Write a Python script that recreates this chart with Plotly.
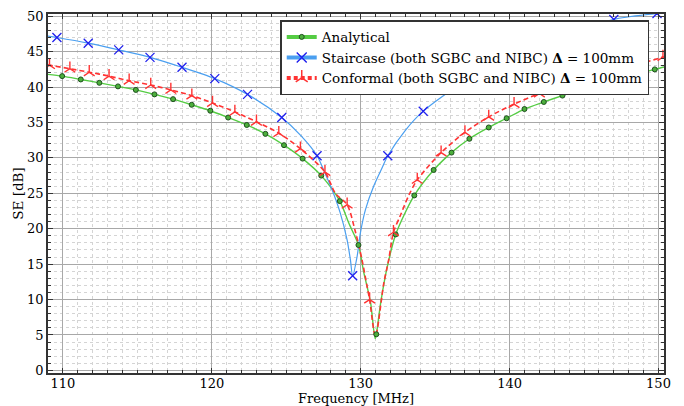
import plotly.graph_objects as go

# ---------------- data ----------------
# Analytical: marker points
ana_mx = [109.95, 111.2, 112.45, 113.7, 114.9, 116.15, 117.4, 118.65, 119.9, 121.1,
          122.35, 123.6, 124.85, 126.1, 127.35, 128.6, 129.85, 131.05, 132.35, 133.6,
          134.9, 136.1, 137.3, 138.6, 139.8, 141.0, 142.3, 143.55, 144.8, 146.0,
          147.25, 148.5, 149.75]
ana_my = [41.55, 41.08, 40.6, 40.1, 39.6, 38.97, 38.3, 37.5, 36.66, 35.7,
          34.65, 33.4, 31.8, 29.9, 27.5, 23.9, 17.7, 5.1, 19.2, 24.7,
          28.3, 30.75, 32.7, 34.3, 35.6, 36.9, 37.9, 38.8, 39.7, 40.5,
          41.2, 41.85, 42.5]
# Analytical: curve points (markers + extra points along the curve)
ana_cx = [109.0, 109.95, 111.2, 112.45, 113.7, 114.9, 116.15, 117.4, 118.65, 119.9,
          121.1, 122.35, 123.6, 124.85, 126.1, 127.35, 128.6, 129.2, 129.85, 130.2,
          130.5, 130.67, 130.97, 131.05, 131.34, 131.74, 132.35, 133.6, 134.9, 136.1,
          137.3, 138.6, 139.8, 141.0, 142.3, 143.55, 144.8, 146.0, 147.25, 148.5,
          149.75, 150.37]
ana_cy = [41.8, 41.55, 41.08, 40.6, 40.1, 39.6, 38.97, 38.3, 37.5, 36.66,
          35.7, 34.65, 33.4, 31.8, 29.9, 27.5, 23.9, 20.8, 17.7, 13.9,
          11.2, 9.5, 4.5, 5.1, 9.5, 14.2, 19.2, 24.7, 28.3, 30.75,
          32.7, 34.3, 35.6, 36.9, 37.9, 38.8, 39.7, 40.5, 41.2, 41.85,
          42.5, 42.85]

# Staircase: marker points
stc_mx = [109.6, 111.7, 113.75, 115.85, 118.0, 120.2, 122.4, 124.7, 127.07, 129.46,
          131.82, 134.2, 136.7, 139.3, 141.9, 144.45, 147.0, 149.9]
stc_my = [47.0, 46.2, 45.25, 44.2, 42.8, 41.2, 38.97, 35.7, 30.3, 13.36,
          30.3, 36.6, 40.4, 43.2, 45.5, 47.5, 49.55, 50.4]
# Staircase: curve points
stc_cx = [109.0, 109.6, 111.7, 113.75, 115.85, 118.0, 120.2, 122.4, 124.7, 126.0,
          127.07, 127.51, 128.08, 128.63, 129.09, 129.31, 129.46, 129.76, 129.98, 130.32,
          130.87, 131.44, 131.82, 133.0, 134.2, 136.7, 139.3, 141.9, 144.45, 147.0,
          149.9, 150.37]
stc_cy = [47.2, 47.0, 46.2, 45.25, 44.2, 42.8, 41.2, 38.97, 35.7, 33.1,
          30.3, 28.3, 25.5, 22.2, 18.4, 15.6, 13.36, 16.1, 19.4, 22.7,
          26.0, 28.6, 30.3, 33.9, 36.6, 40.4, 43.2, 45.5, 47.5, 49.55,
          50.4, 50.55]

# Conformal: marker points
cnf_mx = [109.1, 110.47, 111.77, 113.1, 114.45, 115.9, 117.25, 118.66, 120.05, 121.55,
          123.0, 124.5, 125.95, 127.6, 129.09, 130.6, 132.2, 133.8, 135.4, 137.0,
          138.6, 140.3, 142.0, 143.7, 145.4, 147.1, 148.8, 150.3]
cnf_my = [43.1, 42.6, 42.1, 41.55, 40.9, 40.3, 39.6, 38.8, 37.75, 36.5,
          35.1, 33.5, 31.3, 28.0, 23.4, 10.0, 19.5, 26.9, 30.75, 33.6,
          35.8, 37.6, 39.1, 40.4, 41.5, 42.4, 43.3, 44.25]
# Conformal: curve points
cnf_cx = [109.0, 109.1, 110.47, 111.77, 113.1, 114.45, 115.9, 117.25, 118.66, 120.05,
          121.55, 123.0, 124.5, 125.95, 127.6, 128.3, 129.09, 129.64, 130.09, 130.43,
          130.6, 130.99, 131.55, 131.88, 132.2, 132.67, 133.25, 133.8, 135.4, 137.0,
          138.6, 140.3, 142.0, 143.7, 145.4, 147.1, 148.8, 150.3, 150.37]
cnf_cy = [43.2, 43.1, 42.6, 42.1, 41.55, 40.9, 40.3, 39.6, 38.8, 37.75,
          36.5, 35.1, 33.5, 31.3, 28.0, 25.0, 23.4, 19.6, 15.6, 11.85,
          10.0, 4.8, 12.3, 15.6, 19.5, 21.9, 24.8, 26.9, 30.75, 33.6,
          35.8, 37.6, 39.1, 40.4, 41.5, 42.4, 43.3, 44.25, 44.3]

x_ticks = [110, 120, 130, 140, 150]
y_ticks = [0, 5, 10, 15, 20, 25, 30, 35, 40, 45, 50]

names = ["Analytical",
         "Staircase (both SGBC and NIBC) <b>Δ</b> = 100mm",
         "Conformal (both SGBC and NIBC) <b>Δ</b> = 100mm"]

FONT = "DejaVu Serif"
GREEN, GREEN_EDGE = "#55cc44", "#1f4f1f"
BLUE_LINE, BLUE_MK = "#4a9ff0", "#2020ee"
RED = "#ff3333"

fig = go.Figure()

# curves
fig.add_trace(go.Scatter(x=ana_cx, y=ana_cy, mode="lines", showlegend=False,
                         line=dict(color=GREEN, width=1.4, shape="spline", smoothing=0.8),
                         hoverinfo="skip"))
fig.add_trace(go.Scatter(x=stc_cx, y=stc_cy, mode="lines", showlegend=False,
                         line=dict(color=BLUE_LINE, width=1.2, shape="spline", smoothing=0.8),
                         hoverinfo="skip"))
fig.add_trace(go.Scatter(x=cnf_cx, y=cnf_cy, mode="lines", showlegend=False,
                         line=dict(color=RED, width=1.6, dash="5px,3px", shape="spline", smoothing=0.8),
                         hoverinfo="skip"))

# markers
fig.add_trace(go.Scatter(x=ana_mx, y=ana_my, mode="markers", showlegend=False,
                         marker=dict(symbol="circle", size=5, color="#4caf3c",
                                     line=dict(color=GREEN_EDGE, width=1))))
fig.add_trace(go.Scatter(x=stc_mx, y=stc_my, mode="markers", showlegend=False,
                         marker=dict(symbol="x-thin", size=9, color=BLUE_MK,
                                     line=dict(color=BLUE_MK, width=1.3))))
fig.add_trace(go.Scatter(x=cnf_mx, y=cnf_my, mode="markers", showlegend=False,
                         marker=dict(symbol="y-up", size=9, color=RED,
                                     line=dict(color=RED, width=1.4))))

# legend entries
fig.add_trace(go.Scatter(x=[None], y=[None], mode="lines+markers", name=names[0],
                         line=dict(color=GREEN, width=4),
                         marker=dict(symbol="circle", size=5, color="#4caf3c",
                                     line=dict(color=GREEN_EDGE, width=1))))
fig.add_trace(go.Scatter(x=[None], y=[None], mode="lines+markers", name=names[1],
                         line=dict(color=BLUE_LINE, width=4),
                         marker=dict(symbol="x-thin", size=10, color=BLUE_MK,
                                     line=dict(color=BLUE_MK, width=1.4))))
fig.add_trace(go.Scatter(x=[None], y=[None], mode="lines+markers", name=names[2],
                         line=dict(color=RED, width=4, dash="4px,3px"),
                         marker=dict(symbol="y-up", size=10, color=RED,
                                     line=dict(color=RED, width=1.5))))

axis_common = dict(
    showline=True, linecolor="#333333", linewidth=1.5, mirror="allticks",
    ticks="inside", ticklen=5, tickwidth=1, tickcolor="#333333",
    showgrid=True, gridcolor="#a8a8a8", gridwidth=1.3,
    zeroline=False, automargin=False,
    tickfont=dict(family=FONT, size=13, color="black"),
)

fig.update_xaxes(
    range=[109.0, 150.37], tickvals=x_ticks, ticklabelstandoff=-2,
    title=dict(text="Frequency [MHz]", font=dict(family=FONT, size=13, color="black"), standoff=8),
    minor=dict(dtick=1, tick0=110, ticks="inside", ticklen=3, tickcolor="#333333",
               showgrid=True, gridcolor="#d4d4d4", griddash="dot", gridwidth=1),
    **axis_common)
fig.update_yaxes(
    range=[-0.37, 50.32], tickvals=y_ticks,
    title=dict(text="SE [dB]", font=dict(family=FONT, size=13.5, color="black"), standoff=0),
    minor=dict(dtick=1, tick0=0, ticks="inside", ticklen=3, tickcolor="#333333",
               showgrid=True, gridcolor="#d4d4d4", griddash="dot", gridwidth=1),
    **axis_common)

fig.update_layout(
    width=684, height=406,
    margin=dict(l=48, r=20, t=14, b=33),
    paper_bgcolor="white", plot_bgcolor="white",
    font=dict(family=FONT, size=13, color="black"),
    legend=dict(x=0.377, y=0.983, xanchor="left", yanchor="top",
                bgcolor="white", bordercolor="#333333", borderwidth=1.5,
                font=dict(family=FONT, size=13.5, color="black"),
                itemwidth=30, tracegroupgap=0),
)

fig.write_html("out.html", config={"displayModeBar": False},
               post_script="document.body.style.margin='0px';")
